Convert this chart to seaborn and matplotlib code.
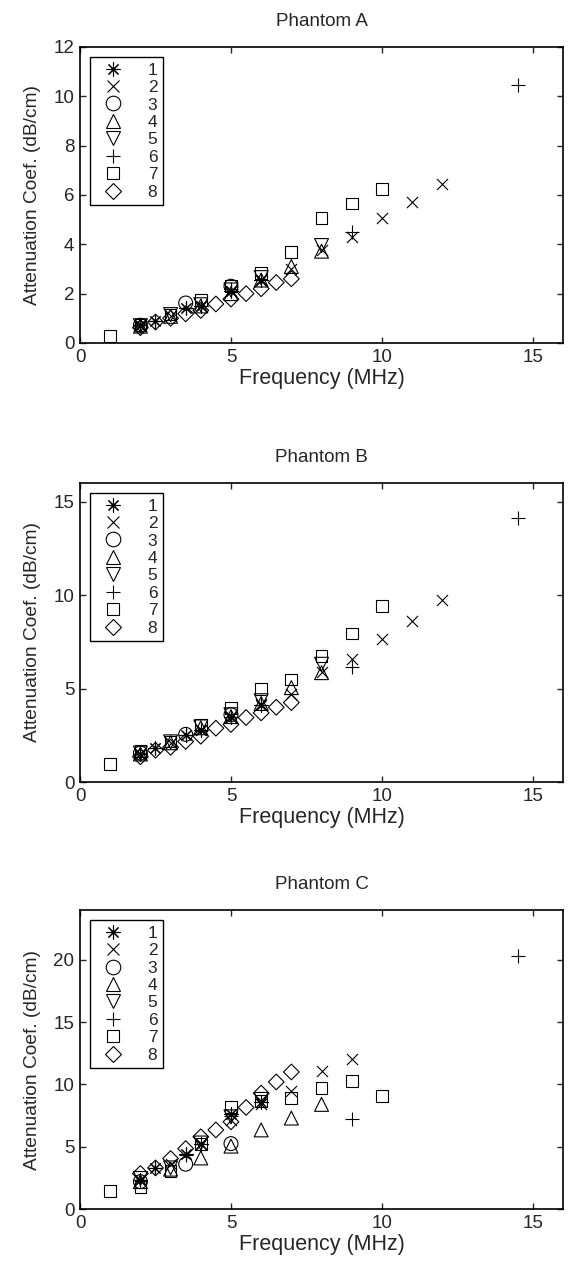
import pandas as pd
import seaborn as sns
import matplotlib.pyplot as plt
from matplotlib.lines import Line2D

# 📌 Series names (legend labels) and phantom titles
series_labels = ["1", "2", "3", "4", "5", "6", "7", "8"]
phantoms = ["Phantom A", "Phantom B", "Phantom C"]

# 📂 Frequencies (MHz) per series, same for every phantom
freq_1 = [2, 2.5, 3.5, 4, 5, 6]
freq_2 = [2, 3, 4, 5, 6, 7, 8, 9, 10, 11, 12]
freq_3 = [2, 3.5, 5]
freq_4 = [2, 3, 4, 5, 6, 7, 8]
freq_5 = [2, 3, 4, 5, 6, 8]
freq_6 = [2, 2.5, 3.5, 5, 9, 14.5]
freq_7 = [1, 2, 3, 4, 5, 6, 7, 8, 9, 10]
freq_8 = [2, 2.5, 3, 3.5, 4, 4.5, 5, 5.5, 6, 6.5, 7]

# 📂 Phantom A attenuation (dB/cm)
a_1 = [0.72, 0.88, 1.42, 1.48, 2.1, 2.55]
a_2 = [0.7, 1.1, 1.5, 2.1, 2.55, 3.0, 3.75, 4.28, 5.05, 5.7, 6.45]
a_3 = [0.72, 1.62, 2.3]
a_4 = [0.68, 1.08, 1.5, 2.0, 2.55, 3.1, 3.72]
a_5 = [0.7, 1.15, 1.55, 2.15, 2.65, 3.95]
a_6 = [0.72, 0.9, 1.42, 2.2, 4.5, 10.45]
a_7 = [0.28, 0.72, 1.15, 1.75, 2.3, 2.85, 3.7, 5.05, 5.65, 6.25]
a_8 = [0.62, 0.85, 1.0, 1.18, 1.32, 1.58, 1.78, 2.0, 2.2, 2.45, 2.6]

# 📂 Phantom B attenuation (dB/cm)
b_1 = [1.5, 1.8, 2.5, 2.8, 3.5, 4.1]
b_2 = [1.5, 2.1, 2.8, 3.5, 4.2, 4.7, 5.9, 6.6, 7.65, 8.6, 9.75]
b_3 = [1.55, 2.55, 3.6]
b_4 = [1.5, 2.1, 2.9, 3.5, 4.2, 5.05, 5.85]
b_5 = [1.55, 2.15, 2.95, 3.6, 4.35, 6.3]
b_6 = [1.5, 1.8, 2.5, 3.5, 6.15, 14.1]
b_7 = [0.97, 1.65, 2.17, 3.05, 3.95, 4.98, 5.48, 6.75, 7.95, 9.4]
b_8 = [1.35, 1.7, 1.86, 2.17, 2.45, 2.88, 3.08, 3.45, 3.7, 4.0, 4.25]

# 📂 Phantom C attenuation (dB/cm)  (None = not measured)
c_1 = [2.3, 3.3, 4.4, 5.2, 7.6, 8.6]
c_2 = [2.3, 3.6, 5.2, 7.15, 8.45, 9.5, 11.05, 12.05, None, None, None]
c_3 = [2.2, 3.6, 5.25]
c_4 = [2.2, 3.2, 4.1, 5.05, 6.35, 7.3, 8.4]
c_5 = [2.45, 3.3, 5.3, 7.4, 8.8, None]
c_6 = [2.3, 3.3, 4.3, 7.5, 7.2, 20.3]
c_7 = [1.47, 1.8, 3.05, 5.25, 8.2, 8.7, 8.9, 9.7, 10.25, 9.1]
c_8 = [2.85, 3.3, 4.05, 4.85, 5.8, 6.35, 7.0, 8.15, 9.3, 10.2, 11.0]

freqs = [freq_1, freq_2, freq_3, freq_4, freq_5, freq_6, freq_7, freq_8]
values = {
    "Phantom A": [a_1, a_2, a_3, a_4, a_5, a_6, a_7, a_8],
    "Phantom B": [b_1, b_2, b_3, b_4, b_5, b_6, b_7, b_8],
    "Phantom C": [c_1, c_2, c_3, c_4, c_5, c_6, c_7, c_8],
}
y_limits = {"Phantom A": (0, 12), "Phantom B": (0, 16), "Phantom C": (0, 24)}
y_ticks = {"Phantom A": range(0, 13, 2), "Phantom B": range(0, 16, 5), "Phantom C": range(0, 21, 5)}

# 🔄 Long table: one row per measurement
rows = []
for ph in phantoms:
    for lab, fr, vals in zip(series_labels, freqs, values[ph]):
        for f, v in zip(fr, vals):
            if v is not None:
                rows.append({"Phantom": ph, "Series": lab, "Frequency": f, "Atten": v})
df = pd.DataFrame(rows)

# 🎨 MATLAB-like marker styles
marker_style = {"1": (8, 2, 0), "2": "x", "3": "o", "4": "^", "5": "v", "6": "+", "7": "s", "8": "D"}
marker_size = {"1": 9.5, "2": 8, "3": 10, "4": 10, "5": 10, "6": 10, "7": 8.5, "8": 8}
line_art = {"1", "2", "6"}

sns.set_style("white")
plt.rcParams["font.family"] = ["Liberation Sans", "DejaVu Sans"]

fig = plt.figure(figsize=(5.7, 12.66), dpi=100)
bottoms = [0.7291, 0.3823, 0.045]
heights = [0.2338, 0.2362, 0.2362]

for ph, b, h in zip(phantoms, bottoms, heights):
    ax = fig.add_axes([0.1404, b, 0.8474, h])
    for lab in series_labels:
        sub = df[(df["Phantom"] == ph) & (df["Series"] == lab)]
        kws = dict(s=marker_size[lab] ** 2, linewidth=0.8, color="black", edgecolor="black")
        if lab not in line_art:
            kws["facecolor"] = "none"
        sns.scatterplot(data=sub, x="Frequency", y="Atten", marker=marker_style[lab], ax=ax, legend=False, **kws)

    ax.set_xlim(0, 16)
    ax.set_ylim(*y_limits[ph])
    ax.set_xticks([0, 5, 10, 15])
    ax.set_yticks(list(y_ticks[ph]))
    ax.set_title(ph, fontsize=13.5, pad=15)
    ax.set_xlabel("Frequency (MHz)", fontsize=15.5, labelpad=2)
    ax.set_ylabel("Attenuation Coef. (dB/cm)", fontsize=13.8)
    ax.yaxis.set_label_coords(-0.08, 0.5)
    ax.tick_params(direction="in", length=4, width=1, labelsize=13.5, top=True, right=True,
                   bottom=True, left=True, pad=4)
    for sp in ax.spines.values():
        sp.set_color("black")
        sp.set_linewidth(1.2)

    # 📌 Legend box (upper left)
    handles = []
    for lab in series_labels:
        handles.append(Line2D([], [], linestyle="none", marker=marker_style[lab], color="black",
                              markerfacecolor="none", markersize=marker_size[lab] + 0.5, markeredgewidth=0.8))
    leg = ax.legend(handles, series_labels, loc="upper left", fontsize=12.5, frameon=True,
                    fancybox=False, framealpha=1, edgecolor="black", labelspacing=0.13,
                    handlelength=2.0, handletextpad=1.0, borderpad=0.3, borderaxespad=0.6)
    leg.get_frame().set_linewidth(1.0)

plt.savefig("out.png", dpi=100)
